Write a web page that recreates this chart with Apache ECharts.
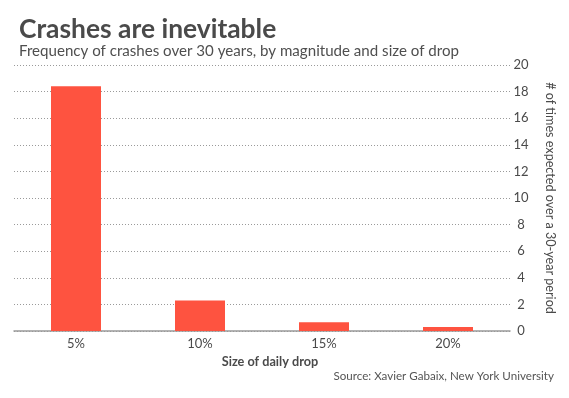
<!DOCTYPE html>
<html><head><meta charset="utf-8">
<script src="https://cdn.jsdelivr.net/npm/echarts@6/dist/echarts.min.js"></script>
<style>html,body{margin:0;padding:0;background:#fff}#c{width:569px;height:398px}</style>
</head><body><div id="c"></div>
<script>
const categories = ['5%', '10%', '15%', '20%'];
const crashCounts = [18.4, 2.3, 0.65, 0.3];
const yTicks = [0, 2, 4, 6, 8, 10, 12, 14, 16, 18, 20];

const chart = echarts.init(document.getElementById('c'));
chart.setOption({
  animation: false,
  textStyle: { fontFamily: 'Lato' },
  title: [
    { text: 'Crashes are inevitable', left: 14, top: 11,
      textStyle: { fontFamily: 'Lato', fontWeight: 'bold', fontSize: 26.4, color: '#4a4a4a' } },
    { text: 'Frequency of crashes over 30 years, by magnitude and size of drop', left: 14, top: 39,
      textStyle: { fontFamily: 'Lato', fontWeight: 'normal', fontSize: 15.1, color: '#4f4f4f' } },
    { text: 'Source: Xavier Gabaix, New York University', right: 10, top: 365,
      textStyle: { fontFamily: 'Lato', fontWeight: 'normal', fontSize: 11.6, color: '#555' } }
  ],
  grid: { left: 14, right: 59, top: 65, bottom: 67 },
  xAxis: {
    type: 'category',
    data: categories,
    name: 'Size of daily drop',
    nameLocation: 'middle',
    nameGap: 21,
    nameTextStyle: { fontFamily: 'Lato', fontWeight: 'bold', fontSize: 12.7, color: '#4a4a4a', padding: [0, 0, 0, 16] },
    axisLine: { show: true, lineStyle: { color: '#999', width: 1.5 } },
    axisTick: { show: false },
    axisLabel: { margin: 6, fontSize: 13, color: '#4a4a4a', fontFamily: 'Lato' }
  },
  yAxis: {
    type: 'value',
    position: 'right',
    min: 0, max: 20, interval: 2,
    name: '# of times expected over a 30-year period',
    nameLocation: 'middle',
    nameRotate: -90,
    nameGap: 34,
    nameTextStyle: { fontFamily: 'Lato', fontSize: 12.6, color: '#4a4a4a' },
    axisLine: { show: false },
    axisTick: { show: false },
    axisLabel: { margin: 11, align: 'center', fontSize: 13, color: '#4a4a4a', fontFamily: 'Lato',
      formatter: v => yTicks.includes(v) ? String(v) : '' },
    splitLine: { show: true, lineStyle: { color: '#9a9a9a', type: [1, 2], width: 1 } }
  },
  series: [{
    type: 'bar',
    data: crashCounts,
    barWidth: 50,
    itemStyle: { color: '#fe5340' }
  }]
});
</script></body></html>
